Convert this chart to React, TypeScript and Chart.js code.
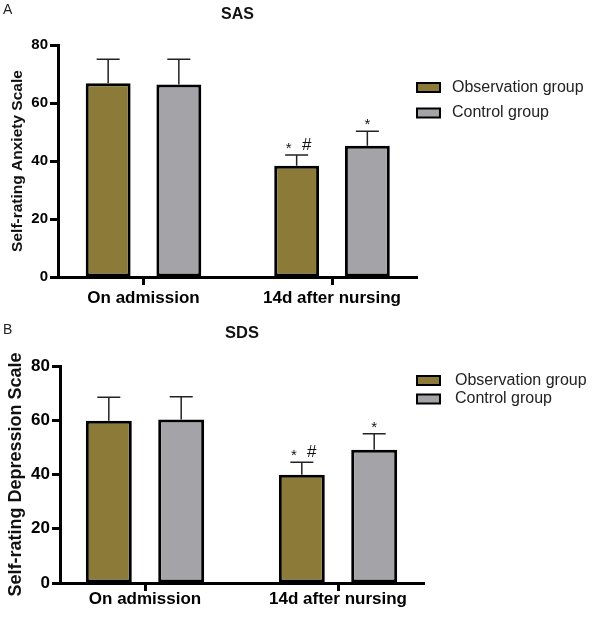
import { useEffect, useRef } from "react";
import { Chart, registerables } from "chart.js";

Chart.register(...registerables);

const categories = ["On admission", "14d after nursing"];
const groups = ["Observation group", "Control group"];
const groupColors = ["#8b7a38", "#a4a4a8"];

// SAS (panel A)
const sasObs = [66.8, 38.4];
const sasObsSd = [8.3, 3.7];
const sasCtrl = [66.4, 45.3];
const sasCtrlSd = [8.7, 5.0];

// SDS (panel B)
const sdsObs = [59.8, 39.9];
const sdsObsSd = [8.7, 4.6];
const sdsCtrl = [60.3, 49.1];
const sdsCtrlSd = [8.4, 5.9];

// significance marks above the error bars
const obsMarks = [[], ["*", "#"]];
const ctrlMarks = [[], ["*"]];

const yMin = 0;
const yMax = 80;
const yStep = 20;

const FONT = "'Liberation Sans', Arial, sans-serif";

const decor = {
  id: "decor",
  afterDatasetsDraw(chart: any, _args: any, opts: any) {
    const ctx = chart.ctx;
    const y = chart.scales.y;
    ctx.save();
    chart.data.datasets.forEach((ds: any, i: number) => {
      const meta = chart.getDatasetMeta(i);
      meta.data.forEach((bar: any, j: number) => {
        const top = y.getPixelForValue(ds.data[j] + ds.errors[j]);
        ctx.strokeStyle = "#222";
        ctx.lineWidth = 1.5;
        ctx.beginPath();
        ctx.moveTo(bar.x, bar.y);
        ctx.lineTo(bar.x, top);
        ctx.moveTo(bar.x - opts.cap / 2, top);
        ctx.lineTo(bar.x + opts.cap / 2, top);
        ctx.stroke();

        const marks: string[] = ds.marks[j];
        ctx.fillStyle = "#111";
        ctx.textAlign = "center";
        ctx.textBaseline = "middle";
        marks.forEach((m, k) => {
          const dx = marks.length > 1 ? (k === 0 ? -8 : 10) : 0;
          if (m === "*") {
            ctx.font = `15px ${FONT}`;
            ctx.fillText(m, bar.x + dx, top - 6);
          } else {
            ctx.font = `17px ${FONT}`;
            ctx.fillText(m, bar.x + dx, top - 10);
          }
        });
      });
    });
    ctx.restore();
  },
  afterDraw(chart: any, _args: any, opts: any) {
    const ctx = chart.ctx;
    ctx.save();
    ctx.fillStyle = "#222";
    ctx.font = `14px ${FONT}`;
    ctx.textAlign = "left";
    ctx.textBaseline = "middle";
    ctx.fillText(opts.letter, 3, opts.letterY);

    chart.data.datasets.forEach((ds: any, i: number) => {
      const cy = opts.legendRows[i];
      ctx.fillStyle = ds.backgroundColor;
      ctx.fillRect(opts.legendX, cy - 4.5, 23, 9);
      ctx.strokeStyle = "#000";
      ctx.lineWidth = 2;
      ctx.strokeRect(opts.legendX, cy - 4.5, 23, 9);
      ctx.fillStyle = "#222";
      ctx.font = `16px ${FONT}`;
      ctx.fillText(ds.label, opts.textX, cy);
    });
    ctx.restore();
  },
};

type PanelProps = {
  height: number;
  title: string;
  letter: string;
  yTitle: string;
  obs: number[];
  obsSd: number[];
  ctrl: number[];
  ctrlSd: number[];
  axisLeft: number;
  axisRight: number;
  axisTop: number;
  axisBottom: number;
  centers: [number, number];
  titleCenter: number;
  titleSize: number;
  yTitleSize: number;
  yTitleX: number;
  tickSize: number;
  xPad: number;
  letterY: number;
  legendRows: number[];
  textX: number;
};

function Panel(p: PanelProps) {
  const ref = useRef<HTMLCanvasElement | null>(null);

  useEffect(() => {
    if (!ref.current) return;
    const ctx = ref.current.getContext("2d");
    if (!ctx) return;

    const plotW = p.axisRight - p.axisLeft;
    const spacing = p.centers[1] - p.centers[0];
    const startValue = -(p.centers[0] - p.axisLeft) / spacing;
    const valueRange = plotW / spacing;
    const titleLine = p.titleSize * 1.2;
    const titlePadTop = p.titleCenter - titleLine / 2;
    const titlePadBottom = p.axisTop - titlePadTop - titleLine;
    const yTitleLine = p.yTitleSize * 1.2;

    const chart = new Chart(ctx, {
      type: "bar",
      data: {
        labels: categories,
        datasets: [
          {
            label: groups[0],
            data: p.obs,
            errors: p.obsSd,
            marks: obsMarks,
            backgroundColor: groupColors[0],
            borderColor: "#000",
            borderWidth: 3,
            borderSkipped: false,
          } as any,
          {
            label: groups[1],
            data: p.ctrl,
            errors: p.ctrlSd,
            marks: ctrlMarks,
            backgroundColor: groupColors[1],
            borderColor: "#000",
            borderWidth: 3,
            borderSkipped: false,
          } as any,
        ],
      },
      options: {
        responsive: false,
        animation: false,
        layout: { padding: { left: 0, right: 600 - p.axisRight, top: 0, bottom: 0 } },
        datasets: { bar: { categoryPercentage: 0.75, barPercentage: 0.635 } },
        plugins: {
          legend: { display: false },
          tooltip: { enabled: false },
          title: {
            display: true,
            text: p.title,
            fullSize: false,
            color: "#111",
            font: { family: FONT, size: p.titleSize, weight: "bold" },
            padding: { top: titlePadTop, bottom: titlePadBottom },
          },
          decor: {
            letter: p.letter,
            letterY: p.letterY,
            legendX: 417,
            legendRows: p.legendRows,
            textX: p.textX,
            cap: 23,
          },
        } as any,
        scales: {
          x: {
            offset: true,
            grid: {
              offset: false,
              drawOnChartArea: false,
              drawTicks: true,
              tickLength: 8,
              tickWidth: 3,
              tickColor: "#000",
            },
            border: { display: true, width: 3, color: "#000" },
            ticks: {
              color: "#000",
              padding: p.xPad,
              font: { family: FONT, size: 17, weight: "bold" },
            },
            afterFit: (s: any) => {
              s.height = p.height - p.axisBottom;
            },
            afterUpdate: (s: any) => {
              s._startValue = startValue;
              s._valueRange = valueRange;
            },
          },
          y: {
            min: yMin,
            max: yMax,
            ticks: {
              stepSize: yStep,
              color: "#000",
              padding: 2,
              font: { family: FONT, size: p.tickSize, weight: "bold" },
            },
            grid: {
              drawOnChartArea: false,
              drawTicks: true,
              tickLength: 8,
              tickWidth: 3,
              tickColor: "#000",
            },
            border: { display: true, width: 3, color: "#000" },
            title: {
              display: true,
              text: p.yTitle,
              color: "#111",
              font: { family: FONT, size: p.yTitleSize, weight: "bold" },
              padding: { top: p.yTitleX - yTitleLine / 2, bottom: 0 },
            },
            afterFit: (s: any) => {
              s.width = p.axisLeft;
            },
          },
        },
      },
      plugins: [decor],
    });

    return () => {
      chart.destroy();
    };
  }, []);

  return (
    <div style={{ width: 600, height: p.height }}>
      <canvas ref={ref} width={600} height={p.height} style={{ display: "block" }} />
    </div>
  );
}

export default function App() {
  return (
    <div style={{ position: "absolute", left: 0, top: 0, width: 600, height: 618, background: "#fff" }}>
      <Panel
        height={310}
        title="SAS"
        letter="A"
        yTitle="Self-rating Anxiety Scale"
        obs={sasObs}
        obsSd={sasObsSd}
        ctrl={sasCtrl}
        ctrlSd={sasCtrlSd}
        axisLeft={58}
        axisRight={417}
        axisTop={45}
        axisBottom={277}
        centers={[143.5, 332]}
        titleCenter={15}
        titleSize={16}
        yTitleSize={15.5}
        yTitleX={18}
        tickSize={15}
        xPad={3}
        letterY={10}
        legendRows={[87.5, 113]}
        textX={452}
      />
      <Panel
        height={308}
        title="SDS"
        letter="B"
        yTitle="Self-rating Depression Scale"
        obs={sdsObs}
        obsSd={sdsObsSd}
        ctrl={sdsCtrl}
        ctrlSd={sdsCtrlSd}
        axisLeft={60}
        axisRight={424}
        axisTop={56}
        axisBottom={273}
        centers={[145, 338]}
        titleCenter={23}
        titleSize={16.5}
        yTitleSize={18}
        yTitleX={16}
        tickSize={17}
        xPad={-2}
        letterY={20}
        legendRows={[70.5, 89]}
        textX={455}
      />
    </div>
  );
}
